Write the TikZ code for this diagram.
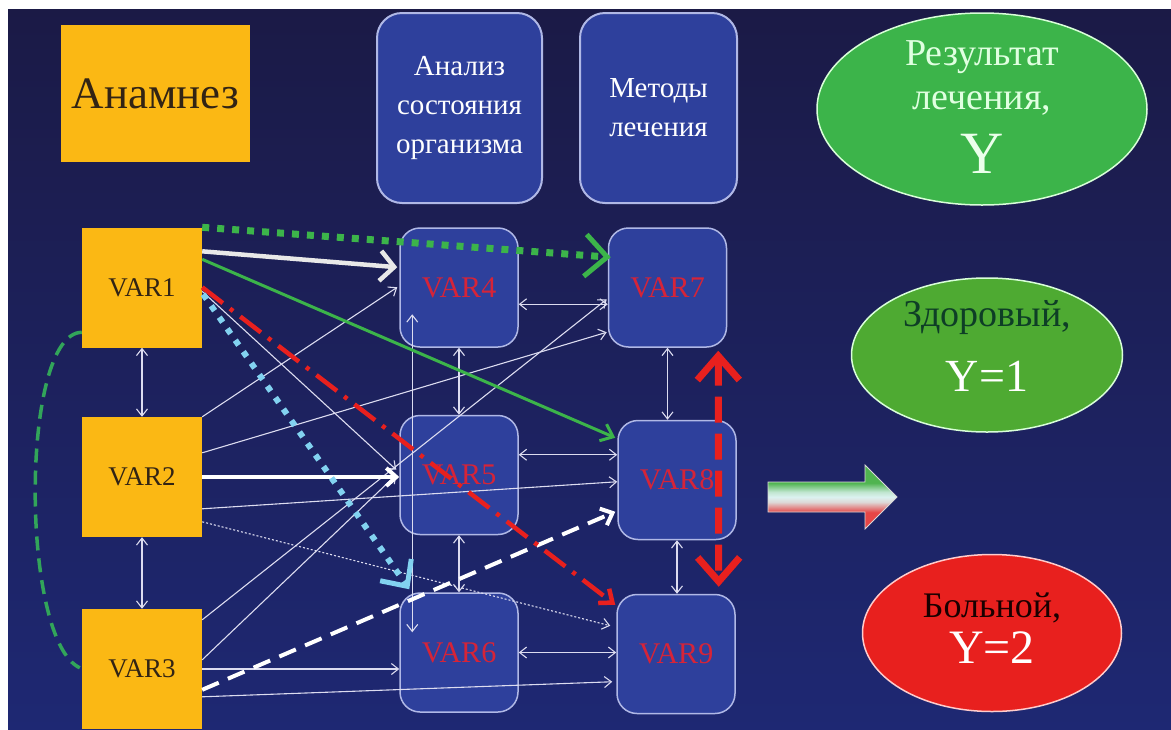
\documentclass[tikz,border=0pt]{standalone}
\usepackage{fontspec}
\setmainfont{Liberation Serif}
\usetikzlibrary{arrows.meta,calc,shapes.geometric}

\definecolor{bgtop}{RGB}{27,26,70}
\definecolor{bgbot}{RGB}{30,40,115}
\definecolor{orng}{RGB}{251,184,20}
\definecolor{nodeblue}{RGB}{46,64,156}
\definecolor{nodeedge}{RGB}{176,184,230}
\definecolor{vred}{RGB}{214,36,56}
\definecolor{linew}{RGB}{220,220,240}
\definecolor{grn}{RGB}{60,180,74}
\definecolor{grnb}{RGB}{78,170,50}
\definecolor{rd}{RGB}{232,32,30}
\definecolor{cyanl}{RGB}{130,210,240}
\definecolor{dkgrn}{RGB}{14,62,38}
\definecolor{dkbrown}{RGB}{50,36,20}
\definecolor{curvegrn}{RGB}{50,165,90}
\definecolor{arrgrn}{RGB}{80,180,80}
\definecolor{arrwhite}{RGB}{220,242,240}
\definecolor{arrred}{RGB}{230,70,70}

\pgfdeclareverticalshading{arrowshade}{100bp}{color(0bp)=(arrred); color(38bp)=(arrred); color(46bp)=(arrwhite!85!arrred); color(50bp)=(arrwhite); color(54bp)=(arrwhite!80!arrgrn); color(61bp)=(arrgrn); color(100bp)=(arrgrn)}

\begin{document}
\begin{tikzpicture}[x=1pt,y=-1pt,
  orbox/.style={rectangle, fill=orng, minimum width=120pt, minimum height=120pt, inner sep=0pt, text=dkbrown, font=\fontsize{27}{32}\selectfont},
  varbox/.style={rectangle, rounded corners=20pt, fill=nodeblue, draw=nodeedge, line width=1.5pt, minimum width=118pt, minimum height=119pt, inner sep=0pt, text=vred, font=\fontsize{30}{34}\selectfont},
  headbox/.style={rectangle, rounded corners=25pt, fill=nodeblue, draw=nodeedge, line width=2pt, minimum height=190pt, inner sep=0pt, text=white, align=center, font=\fontsize{29}{39}\selectfont},
  oval/.style={ellipse, draw=white!85!green, line width=1.5pt, inner sep=0pt},
  conn/.style={draw=linew, line width=1.1pt, -{Straight Barb[length=7pt,width=11pt]}},
  connboth/.style={draw=linew, line width=1.1pt, {Straight Barb[length=7pt,width=11pt]}-{Straight Barb[length=7pt,width=11pt]}},
  gdot/.style={draw=grn, line width=7pt, dash pattern=on 7pt off 8pt, -{Straight Barb[length=22pt,width=42pt,line width=5pt]}},
  cdot/.style={draw=cyanl, line width=6pt, dash pattern=on 6pt off 8pt, -{Straight Barb[length=20pt,width=38pt,line width=5pt]}},
  graythick/.style={draw=white!82!gray, line width=4.5pt, -{Straight Barb[length=14pt,width=30pt]}},
  gsolid/.style={draw=grn, line width=3pt, -{Straight Barb[length=11pt,width=18pt]}},
  rdashdot/.style={draw=rd, line width=4.5pt, dash pattern=on 26pt off 9pt on 4pt off 9pt, -{Straight Barb[length=11pt,width=18pt]}},
  wthick/.style={draw=white, line width=4pt, -{Straight Barb[length=10pt,width=18pt]}},
  wdash/.style={draw=white, line width=4pt, dash pattern=on 18pt off 10pt, -{Straight Barb[length=10pt,width=18pt]}},
  wdotted/.style={conn, dash pattern=on 2pt off 2pt},
  rthick/.style={draw=rd, line width=7pt, dash pattern=on 26pt off 11pt, {Straight Barb[length=24pt,width=42pt]}-{Straight Barb[length=24pt,width=42pt]}},
  gcurve/.style={draw=curvegrn, line width=3.5pt, dash pattern=on 14pt off 8pt}
]
\useasboundingbox (0,0) rectangle (1171,729);
\fill[white] (0,0) rectangle (1171,729);
\shade[top color=bgtop,bottom color=bgbot] (8,9) rectangle (1171,729);

% header row
\node[rectangle, fill=orng, minimum width=189pt, minimum height=137pt, inner sep=0pt, text=dkbrown, font=\fontsize{45}{50}\selectfont] (anam) at (155.5,93.5) {Анамнез};
\node[headbox, minimum width=165pt] (ana) at (459.5,108) {Анализ\\состояния\\организма};
\node[headbox, minimum width=157pt] (met) at (658.5,108) {Методы\\лечения};

% result ellipses
\node[oval, fill=grn, minimum width=330pt, minimum height=192pt] (res) at (982,109) {};
\node[anchor=base, text=white!88!green, font=\fontsize{38}{40}\selectfont] (res1) at (982,65) {Результат};
\node[anchor=base, text=white!88!green, font=\fontsize{38}{40}\selectfont] (res2) at (982,109) {лечения,};
\node[anchor=base, text=white!92!green, font=\fontsize{60}{62}\selectfont] (res3) at (982,173) {Y};

\node[oval, fill=grnb, minimum width=271pt, minimum height=154pt] (zd) at (987,355) {};
\node[anchor=base, text=dkgrn, font=\fontsize{38}{40}\selectfont] (zd1) at (987,326) {Здоровый,};
\node[anchor=base, text=white, font=\fontsize{46}{48}\selectfont] (zd2) at (987,391) {Y=1};

\node[oval, draw=white!80!red, fill=rd, minimum width=259pt, minimum height=157pt] (bol) at (992,633) {};
\node[anchor=base, text=black!90!red, font=\fontsize{36}{40}\selectfont] (bol1) at (992,617) {Больной,};
\node[anchor=base, text=white, font=\fontsize{48}{50}\selectfont] (bol2) at (992,663) {Y=2};

% big gradient arrow
\shade[shading=arrowshade, draw=white!70!gray, line width=0.8pt]
  (768,482) -- (865,482) -- (865,465) -- (897,497) -- (865,529) -- (865,512) -- (768,512) -- cycle;

% variable nodes
\node[orbox] (v1) at (142,287.5) {VAR1};
\node[orbox] (v2) at (142,477) {VAR2};
\node[orbox] (v3) at (142,669) {VAR3};
\node[varbox] (v4) at (459,287.5) {VAR4};
\node[varbox] (v5) at (459,475) {VAR5};
\node[varbox] (v6) at (459,652.5) {VAR6};
\node[varbox] (v7) at (667.5,287.5) {VAR7};
\node[varbox] (v8) at (677,480) {VAR8};
\node[varbox] (v9) at (676,654) {VAR9};

% curved green dashed link VAR1 - VAR3
\draw[gcurve] ($(v1.north west)+(0,105)$) .. controls (20,333) and (20,640) .. ($(v3.north west)+(-2,59)$);

% thin white connectors
\draw[connboth] (v1.south) -- (v2.north);
\draw[connboth] (v2.south) -- (v3.north);
\draw[connboth] (v4.south) -- (v5.north);
\draw[connboth] (v5.south) -- (v6.north);
\draw[connboth] (v7.south) -- (v7.south |- v8.north);
\draw[connboth] (v8.south) -- (v8.south |- v9.north);
\draw[connboth] ($(v4.north east)+(0,77)$) -- ($(v7.north west)+(0,77)$);
\coordinate (c58) at ($(v5.north east)+(0,40)$);
\draw[connboth] (c58) -- (c58 -| v8.west);
\draw[connboth] (v6.east) -- (v6.east -| v9.west);
\draw[connboth] ($(v4.north west)+(13,87)$) -- ($(v6.north west)+(13,40)$);

\draw[conn] ($(v1.north east)+(0,64)$) -- ($(v5.north west)+(-3,55)$);
\draw[conn] (v2.north east) -- ($(v4.north west)+(-2,60)$);
\draw[conn] ($(v2.north east)+(0,36)$) -- ($(v7.north west)+(-1,105)$);
\draw[conn] ($(v2.north east)+(0,92)$) -- ($(v8.north west)+(0,62)$);
\draw[wdotted] ($(v2.north east)+(0,105)$) -- ($(v9.north west)+(-6,32)$);
\draw[conn] ($(v3.north east)+(0,11)$) -- ($(v7.north west)+(-1,72)$);
\draw[conn] ($(v3.north east)+(0,51)$) -- ($(v5.north west)+(-3,60)$);
\draw[conn] (v3.east) -- (v3.east -| v6.west);
\draw[conn] ($(v3.north east)+(0,88)$) -- ($(v9.north west)+(-4,88)$);

% highlighted connectors
\draw[wthick] (v2.east) -- (v2.east -| v5.west);
\draw[wdash] ($(v3.north east)+(0,81)$) -- ($(v8.north west)+(-2,92)$);
\draw[graythick] ($(v1.north east)+(0,24)$) -- ($(v4.north west)+(-2,40)$);
\draw[gsolid] ($(v1.north east)+(0,32)$) -- ($(v8.north west)+(-2,18)$);
\draw[rdashdot] ($(v1.north east)+(0,60)$) -- ($(v9.north west)+(-1,11)$);
\draw[cdot] ($(v1.north east)+(1,67)$) -- ($(v6.north west)+(10,-3)$);
\draw[gdot] (v1.north east) -- ($(v7.north west)+(3,30)$);
\draw[rthick] ($(v7.south east)+(-9,3)$) -- ($(v9.north east)+(-17,-7)$);
\end{tikzpicture}
\end{document}
